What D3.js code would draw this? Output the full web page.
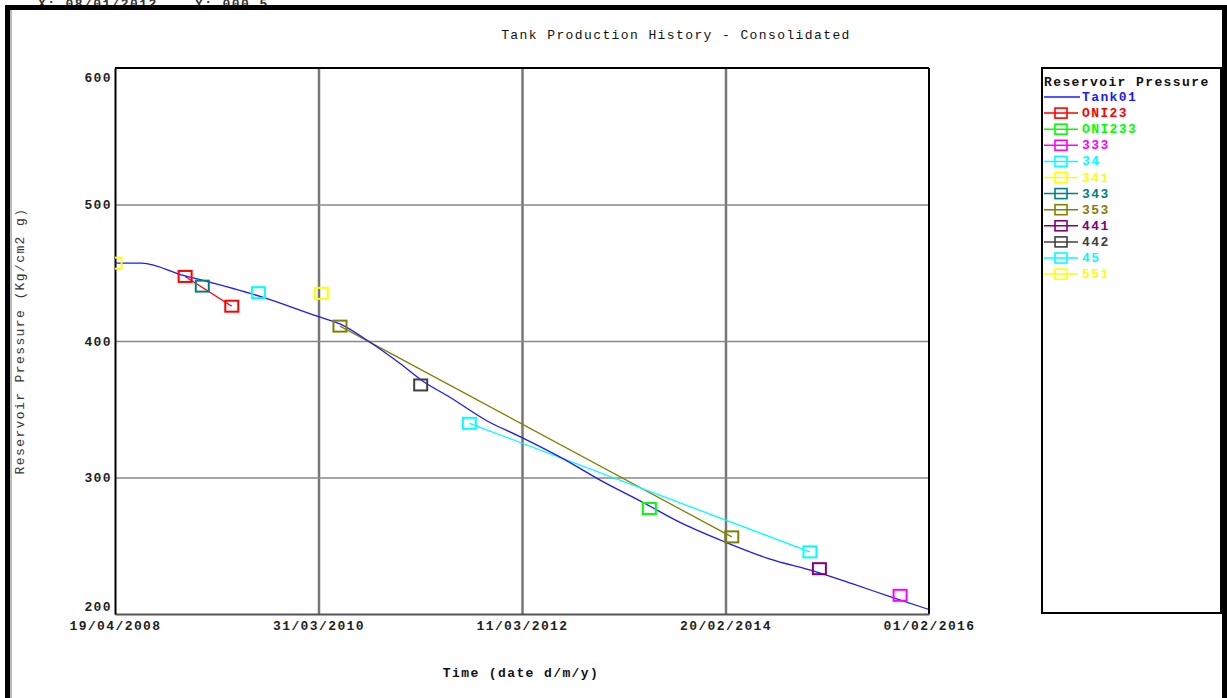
<!DOCTYPE html>
<html>
<head>
<meta charset="utf-8">
<script src="https://cdn.jsdelivr.net/npm/d3@7"></script>
<style>
  body { margin: 0; background: #fff; }
  svg { display: block; }
  text { font-family: "Liberation Mono", "Courier New", monospace; font-size: 13px; letter-spacing: 1.4px; }
</style>
</head>
<body>
<script>
// ---- data ----
const xTickLabels = ["19/04/2008", "31/03/2010", "11/03/2012", "20/02/2014", "01/02/2016"];
const yTicks = [200, 300, 400, 500, 600];

const tank01Dates = ["2008-04-19", "2008-07-21", "2008-12-13", "2009-02-20", "2009-09-08", "2010-03-29",
  "2010-06-14", "2010-09-27", "2011-01-10", "2011-03-31", "2011-07-03", "2011-11-09", "2012-03-04",
  "2012-08-01", "2012-12-09", "2013-05-08", "2013-09-25", "2014-02-24", "2014-07-26", "2014-12-23",
  "2015-05-11", "2015-09-28", "2016-01-29"];
const tank01Pressure = [457.1, 457.1, 448.1, 444.4, 432.7, 418.0, 412.5, 399.1, 383.5, 370.5, 358.8,
  341.6, 329.9, 313.8, 298.1, 281.7, 266.0, 252.3, 240.2, 231.6, 222.0, 212.0, 203.5];

const oni23 = [["2008-12-20", 447.3], ["2009-06-01", 425.5]];
const oni233 = [["2013-05-30", 277.3]];
const w333 = [["2015-10-23", 213.7]];
const w34 = [["2009-09-02", 435.4]];
const w341 = [["2010-04-10", 434.9]];
const w343 = [["2009-02-18", 440.2]];
const w353 = [["2010-06-14", 410.9], ["2014-03-14", 256.5]];
const w441 = [["2015-01-14", 233.2]];
const w442 = [["2011-03-23", 367.8]];
const w45 = [["2011-09-09", 339.7], ["2014-12-12", 245.5]];
const w551 = [["2008-04-19", 457.0]];

const wellNames = ["ONI23", "ONI233", "333", "34", "341", "343", "353", "441", "442", "45", "551"];
const wellData = [oni23, oni233, w333, w34, w341, w343, w353, w441, w442, w45, w551];
const wellColors = ["#ff0000", "#00ff00", "#ff00ff", "#00ffff", "#ffff00", "#008080", "#808000",
  "#800080", "#404040", "#00ffff", "#ffff00"];
const tankColor = "#1a1aff";

// ---- layout ----
const W = 1227, H = 698;
const plot = {left: 115, right: 929, top: 68, bottom: 614};

const parseIso = d3.timeParse("%Y-%m-%d");
const parseDmy = d3.timeParse("%d/%m/%Y");
const fmtDmy = d3.timeFormat("%d/%m/%Y");
const xTickDates = xTickLabels.map(parseDmy);

const x = d3.scaleTime().domain([xTickDates[0], xTickDates[xTickDates.length - 1]]).range([plot.left, plot.right]);
const y = d3.scaleLinear().domain([200, 600]).range([plot.bottom, plot.top]);

const svg = d3.select("body").append("svg").attr("width", W).attr("height", H);

// cursor readout, cut off by the frame as in the original
svg.append("text").attr("x", 38).attr("y", 8).attr("fill", "#333").style("font-weight", "bold").text("X: 08/01/2012");
svg.append("text").attr("x", 195).attr("y", 8).attr("fill", "#333").style("font-weight", "bold").text("Y: 000,5");

// window frame
svg.append("rect").attr("x", 5).attr("y", 5).attr("width", W - 5).attr("height", 5).attr("fill", "#000");
svg.append("rect").attr("x", 5).attr("y", 5).attr("width", 5).attr("height", H).attr("fill", "#000");
svg.append("rect").attr("x", 1222).attr("y", 5).attr("width", 5).attr("height", H).attr("fill", "#000");
svg.append("rect").attr("x", 10).attr("y", 10).attr("width", 2).attr("height", H).attr("fill", "#bbb");

// title
svg.append("text").attr("x", 676).attr("y", 39).attr("text-anchor", "middle").attr("fill", "#111")
  .text("Tank Production History - Consolidated");

// grid
const grid = svg.append("g");
grid.append("g").attr("transform", `translate(0,${plot.bottom})`)
  .call(d3.axisBottom(x).tickValues(xTickDates.slice(1, -1)).tickSize(-(plot.bottom - plot.top)).tickFormat(""))
  .call(g => g.select(".domain").remove())
  .call(g => g.selectAll("line").attr("stroke", "#777").attr("stroke-width", 2.5));
grid.append("g").attr("transform", `translate(${plot.left},0)`)
  .call(d3.axisLeft(y).tickValues(yTicks.slice(1, -1)).tickSize(-(plot.right - plot.left)).tickFormat(""))
  .call(g => g.select(".domain").remove())
  .call(g => g.selectAll("line").attr("stroke", "#888").attr("stroke-width", 1.5));

// plot frame
svg.append("line").attr("x1", plot.left).attr("x2", plot.right).attr("y1", plot.top).attr("y2", plot.top)
  .attr("stroke", "#000").attr("stroke-width", 2);
svg.append("line").attr("x1", plot.right).attr("x2", plot.right).attr("y1", plot.top).attr("y2", plot.bottom)
  .attr("stroke", "#000").attr("stroke-width", 2);

// axes
const xAxis = svg.append("g").attr("transform", `translate(0,${plot.bottom})`)
  .call(d3.axisBottom(x).tickValues(xTickDates).tickFormat(fmtDmy).tickSize(0).tickPadding(7));
xAxis.attr("font-family", null).attr("font-size", null);
xAxis.select(".domain").attr("stroke", "#555").attr("stroke-width", 2);
xAxis.selectAll("text").attr("fill", "#222").style("font-weight", "bold");

const yAxis = svg.append("g").attr("transform", `translate(${plot.left},0)`)
  .call(d3.axisLeft(y).tickValues(yTicks).tickSize(0).tickPadding(5));
yAxis.attr("font-family", null).attr("font-size", null);
yAxis.select(".domain").attr("stroke", "#000").attr("stroke-width", 2);
yAxis.selectAll("text").attr("fill", "#222").style("font-weight", "bold").attr("dx", 2)
  .attr("dy", d => d === 600 ? "1.0em" : d === 200 ? "-0.3em" : "0.32em");

// axis titles
svg.append("text").attr("x", 521).attr("y", 677).attr("text-anchor", "middle").attr("fill", "#111")
  .style("font-weight", "bold").text("Time (date d/m/y)");
svg.append("text").attr("transform", "translate(24,341) rotate(-90)").attr("text-anchor", "middle")
  .attr("fill", "#333").text("Reservoir Pressure (Kg/cm2 g)");

// series
svg.append("clipPath").attr("id", "clip").append("rect")
  .attr("x", plot.left).attr("y", plot.top).attr("width", plot.right - plot.left).attr("height", plot.bottom - plot.top);
const area = svg.append("g").attr("clip-path", "url(#clip)");

const line = d3.line().x(d => x(parseIso(d[0]))).y(d => y(d[1]));
const tankLine = d3.line().x(d => x(parseIso(d[0]))).y(d => y(d[1])).curve(d3.curveMonotoneX);
const tankPts = tank01Dates.map((d, i) => [d, tank01Pressure[i]]);

wellData.forEach((pts, i) => {
  if (pts.length > 1) {
    area.append("path").datum(pts).attr("d", line).attr("fill", "none")
      .attr("stroke", wellColors[i]).attr("stroke-width", 1.3);
  }
});

area.append("path").datum(tankPts).attr("d", tankLine).attr("fill", "none")
  .attr("stroke", tankColor).attr("stroke-width", 1.3);

const mw = 13, mh = 11;
wellData.forEach((pts, i) => {
  area.selectAll(null).data(pts).enter().append("rect")
    .attr("x", d => x(parseIso(d[0])) - mw / 2)
    .attr("y", d => y(d[1]) - mh / 2)
    .attr("width", mw).attr("height", mh)
    .attr("fill", "none").attr("stroke", wellColors[i]).attr("stroke-width", 2);
});

// legend
const lg = svg.append("g");
lg.append("rect").attr("x", 1042).attr("y", 68).attr("width", 179).attr("height", 545)
  .attr("fill", "#fff").attr("stroke", "#000").attr("stroke-width", 2);
lg.append("text").attr("x", 1044).attr("y", 86).attr("fill", "#111").style("font-weight", "bold")
  .text("Reservoir Pressure");

const legendItems = [{name: "Tank01", color: tankColor, marker: false}]
  .concat(wellNames.map((n, i) => ({name: n, color: wellColors[i], marker: true})));
const rowY = d3.scaleLinear().domain([0, 1]).range([97, 113.1]);

legendItems.forEach((it, i) => {
  const cy = rowY(i);
  const g = lg.append("g");
  g.append("line").attr("x1", 1044).attr("x2", it.marker ? 1078 : 1080).attr("y1", cy).attr("y2", cy)
    .attr("stroke", it.color).attr("stroke-width", 1.5);
  if (it.marker) {
    g.append("rect").attr("x", 1055).attr("y", cy - 5).attr("width", 12).attr("height", 10)
      .attr("fill", "none").attr("stroke", it.color).attr("stroke-width", 1.6);
  }
  g.append("text").attr("x", 1082).attr("y", cy + 4).attr("fill", it.color).style("font-weight", "bold")
    .text(it.name);
});
</script>
</body>
</html>
